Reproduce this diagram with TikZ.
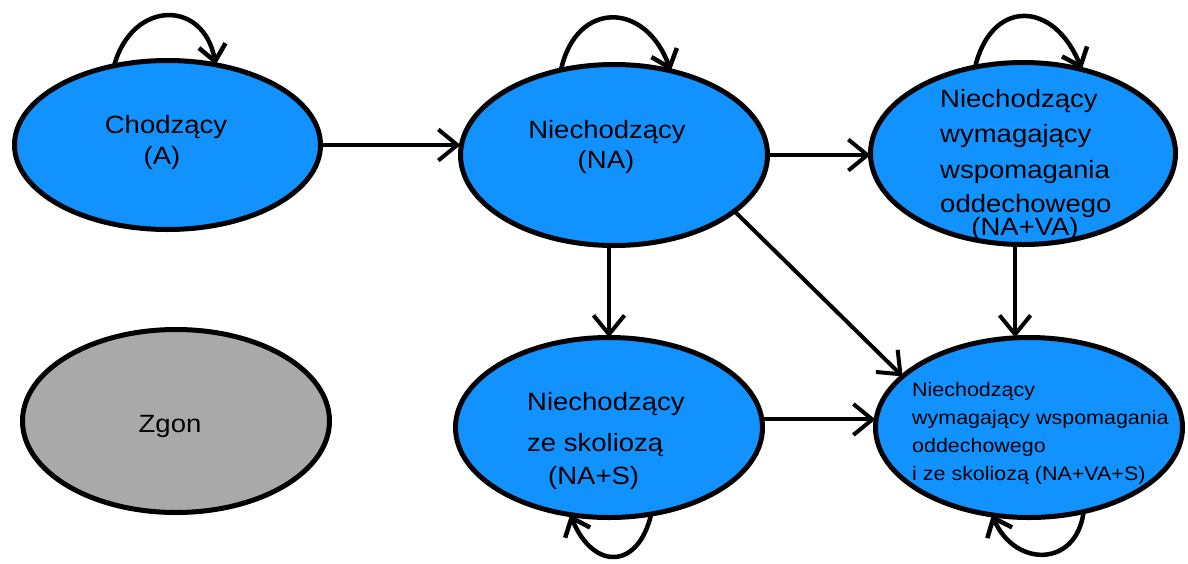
\documentclass[tikz,border=0pt]{standalone}
\usepackage{fontspec}
\setmainfont{Liberation Sans}[FakeStretch=1.1]
\usetikzlibrary{shapes.geometric,arrows.meta}
\definecolor{stateblue}{RGB}{17,146,255}
\definecolor{stategray}{RGB}{169,169,169}
\begin{document}
\begin{tikzpicture}[x=1pt,y=-1pt,
  state/.style={ellipse, draw=black, line width=5pt, fill=stateblue, inner sep=0pt, outer sep=0pt},
  big/.style={font=\fontsize{25}{30}\selectfont, text=black, inner sep=0pt, anchor=base},
  bigl/.style={big, anchor=base west},
  small/.style={font=\fontsize{19.5}{28}\selectfont, text=black, inner sep=0pt, anchor=base west},
  arr/.style={line width=4pt, -{Straight Barb[length=19pt,width=31pt]}},
  selfloop/.style={line width=4.5pt, -{Straight Barb[length=16pt,width=27pt]}}]
\useasboundingbox (0,0) rectangle (1188,563);

% states
\node[state, minimum width=306pt, minimum height=169pt] (A) at (167.5,145) {};
\node[state, minimum width=307pt, minimum height=181pt] (NA) at (614,155) {};
\node[state, minimum width=305pt, minimum height=182pt] (NAVA) at (1023,153.5) {};
\node[state, fill=stategray, minimum width=307pt, minimum height=183pt] (Z) at (176,421) {};
\node[state, minimum width=307pt, minimum height=180pt] (NAS) at (609,427.5) {};
\node[state, minimum width=307pt, minimum height=180pt] (NAVAS) at (1029,427.5) {};

% texts
\node[big] (tA1) at (166,133) {Chodzący};
\node[big] (tA2) at (162,164) {(A)};
\node[big] (tNA1) at (607,138) {Niechodzący};
\node[big] (tNA2) at (606,168) {(NA)};
\node[bigl] (tV1) at (940,107) {Niechodzący};
\node[bigl] (tV2) at (940,142) {wymagający};
\node[bigl] (tV3) at (940,178) {wspomagania};
\node[bigl] (tV4) at (940,212) {oddechowego};
\node[big] (tV5) at (1025,235) {(NA+VA)};
\node[big] (tZ) at (170,432) {Zgon};
\node[bigl] (tS1) at (527,410) {Niechodzący};
\node[bigl] (tS2) at (527,451) {ze skoliozą};
\node[bigl] (tS3) at (548,484) {(NA+S)};
\node[small] (tW1) at (912,396) {Niechodzący};
\node[small] (tW2) at (912,424) {wymagający wspomagania};
\node[small] (tW3) at (912,452) {oddechowego};
\node[small] (tW4) at (912,480) {i ze skoliozą (NA+VA+S)};

% self loops
\draw[selfloop] (A.124.7) .. controls +(18,-66) and +(-12,-66) .. (A.59.2);
\draw[selfloop] (NA.122.3) .. controls +(15,-70) and +(-25,-70) .. (NA.56.7);
\draw[selfloop] (NAVA.119.4) .. controls +(16,-68) and +(-28,-70) .. (NAVA.55.9);
\draw[selfloop] (NAS.-64.6) .. controls +(-13,56) and +(23,56) .. (NAS.-114.4);
\draw[selfloop] (NAVAS.-57.9) .. controls +(-7,56) and +(23,53) .. (NAVAS.-113.7);

% transitions
\draw[arr] (A.east) -- (A.east -| NA.west);
\draw[arr] (NA.east) -- (NA.east -| NAVA.west);
\draw[arr] (NA.south -| NAS.north) -- (NAS.north);
\draw[arr] (NA.-25) -- (NAVAS.158);
\draw[arr] (NAVA.-95) -- (NAVA.-95 |- NAVAS.north);
\draw[arr] (NAS.3) -- (NAS.3 -| NAVAS.west);
\end{tikzpicture}
\end{document}
